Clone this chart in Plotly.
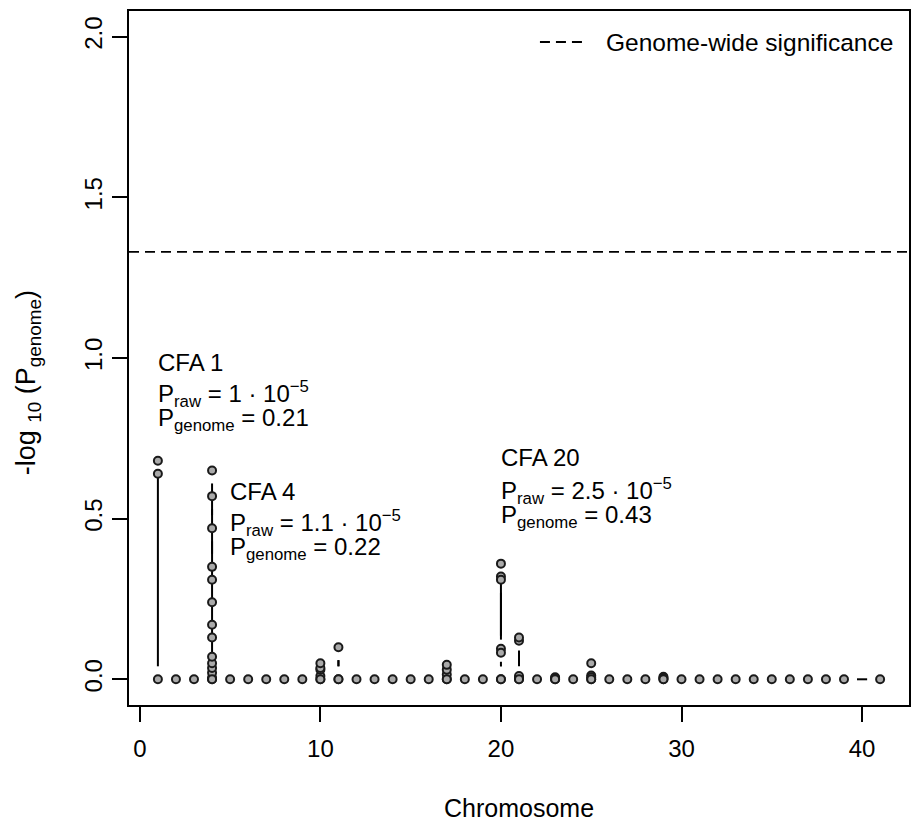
import math
import plotly.graph_objects as go

FONT = "Liberation Sans, Arial, sans-serif"

# Chromosomes in the scan (CFA 40 carries no markers)
chromosomes = list(range(1, 40)) + [41]

# -log10(P_genome) for each marker, in scan order along the chromosome.
# Chromosomes not listed here only have markers at 0.
cfa1 = [0.64, 0.68, 0.0]
cfa4 = [0.0, 0.005, 0.02, 0.035, 0.05, 0.07, 0.13, 0.17, 0.24, 0.31, 0.35, 0.47, 0.57, 0.65, 0.0]
cfa10 = [0.0, 0.01, 0.03, 0.035, 0.05, 0.0]
cfa11 = [0.0, 0.10, 0.0]
cfa17 = [0.0, 0.015, 0.03, 0.045, 0.0]
cfa20 = [0.0, 0.095, 0.36, 0.32, 0.31, 0.083, 0.0]
cfa21 = [0.0, 0.005, 0.01, 0.12, 0.13, 0.0]
cfa23 = [0.0, 0.006, 0.003, 0.0]
cfa25 = [0.0, 0.05, 0.012, 0.006, 0.0]
cfa29 = [0.0, 0.008, 0.004, 0.0]

scan = {1: cfa1, 4: cfa4, 10: cfa10, 11: cfa11, 17: cfa17,
        20: cfa20, 21: cfa21, 23: cfa23, 25: cfa25, 29: cfa29}

significance = 1.33  # genome-wide threshold on -log10 scale

x_ticks = [0, 10, 20, 30, 40]
y_ticks = [0.0, 0.5, 1.0, 1.5, 2.0]
y_tick_text = ["0.0", "0.5", "1.0", "1.5", "2.0"]

# plot geometry (pixels) and axis ranges
W, H = 912, 828
ML, MR, MT, MB = 129, 1, 11, 123
PW, PH = W - ML - MR, H - MT - MB
X_RANGE = [-0.6, 42.6]
Y_RANGE = [-0.08, 2.08]

# marker sequence in genome order
px, py = [], []
for c in chromosomes:
    for v in scan.get(c, [0.0]):
        px.append(c)
        py.append(v)

# connecting line with gaps around each point (like type = "b")
sx = PW / (X_RANGE[1] - X_RANGE[0])
sy = PH / (Y_RANGE[1] - Y_RANGE[0])
GAP = 13.0
lx, ly = [], []
for x0, y0, x1, y1 in zip(px[:-1], py[:-1], px[1:], py[1:]):
    d = math.hypot((x1 - x0) * sx, (y1 - y0) * sy)
    if d <= 2 * GAP:
        continue
    f = GAP / d
    lx += [x0 + (x1 - x0) * f, x1 - (x1 - x0) * f, None]
    ly += [y0 + (y1 - y0) * f, y1 - (y1 - y0) * f, None]

fig = go.Figure()

fig.add_trace(go.Scatter(
    x=X_RANGE, y=[significance, significance], mode="lines",
    line=dict(color="black", width=1.8, dash="10px,6px"),
    showlegend=False, hoverinfo="skip"))

fig.add_trace(go.Scatter(
    x=lx, y=ly, mode="lines", line=dict(color="black", width=2),
    showlegend=False, hoverinfo="skip"))

fig.add_trace(go.Scatter(
    x=px, y=py, mode="markers",
    marker=dict(size=8, color="#aaaaaa", line=dict(color="#1a1a1a", width=2)),
    showlegend=False))

axis_common = dict(
    showgrid=False, zeroline=False, showline=True, mirror=True,
    linecolor="black", linewidth=2, ticks="outside", ticklen=15,
    tickwidth=2, tickcolor="black",
    tickfont=dict(family=FONT, size=24, color="black"),
)

fig.update_xaxes(range=X_RANGE, tickvals=x_ticks, ticklabelstandoff=6,
                 **axis_common)
fig.update_yaxes(range=Y_RANGE, tickvals=y_ticks, ticktext=y_tick_text,
                 tickangle=-90, ticklabelstandoff=0, **axis_common)

# peak labels
def label(x, y, text, size=24):
    fig.add_annotation(x=x, y=y, xref="x", yref="y", text=text,
                       showarrow=False, xanchor="left", yanchor="middle",
                       xshift=-2, font=dict(family=FONT, size=size, color="black"))

peaks = [
    (1, "CFA 1", "1", "0.21", (0.986, 0.888, 0.810)),
    (5, "CFA 4", "1.1", "0.22", (0.584, 0.487, 0.408)),
    (20, "CFA 20", "2.5", "0.43", (0.690, 0.587, 0.508)),
]
for x, name, praw, pgen, (y1, y2, y3) in peaks:
    label(x, y1, name)
    label(x, y2, f"P<sub>raw</sub> = {praw} · 10<sup>−5</sup>")
    label(x, y3, f"P<sub>genome</sub> = {pgen}")

# axis titles
fig.add_annotation(x=0.5, y=-(808 - 705) / PH, xref="paper", yref="paper",
                   text="Chromosome", showarrow=False,
                   xanchor="center", yanchor="middle",
                   font=dict(family=FONT, size=25, color="black"))
fig.add_annotation(x=-(ML - 28) / PW, y=(705 - 383) / PH,
                   xref="paper", yref="paper",
                   text="-log <sub>10</sub> (P<sub>genome</sub>)", showarrow=False,
                   textangle=-90, xanchor="center", yanchor="middle",
                   font=dict(family=FONT, size=27, color="black"))

# legend key
ky = (705 - 42) / PH
fig.add_shape(type="line", xref="paper", yref="paper",
              x0=(541 - ML) / PW, x1=(588 - ML) / PW, y0=ky, y1=ky,
              line=dict(color="black", width=1.8, dash="10px,6px"))
fig.add_annotation(x=(607 - ML) / PW, y=ky, xref="paper", yref="paper",
                   text="Genome-wide significance", showarrow=False,
                   xanchor="left", yanchor="middle", xshift=-2,
                   font=dict(family=FONT, size=24.5, color="black"))

fig.update_layout(
    width=W, height=H, margin=dict(l=ML, r=MR, t=MT, b=MB),
    plot_bgcolor="white", paper_bgcolor="white",
    font=dict(family=FONT, color="black"),
)

fig.write_html("out.html")
